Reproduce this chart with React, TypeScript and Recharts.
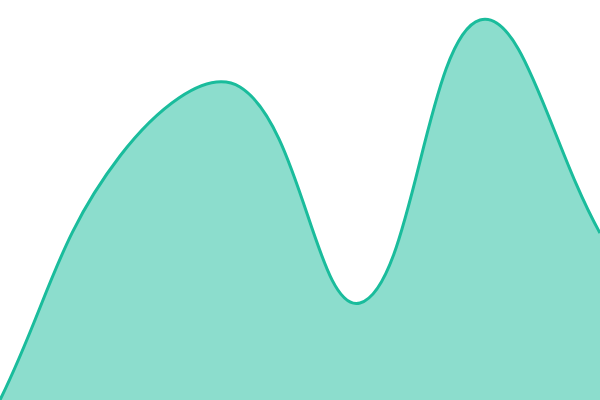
import React from 'react';
import { AreaChart, Area, XAxis, YAxis } from 'recharts';

const categories = ['A', 'B', 'C', 'D', 'E', 'F'];
const values = [0, 244, 313, 97, 380, 167];

const data = categories.map((c, i) => ({ name: c, value: values[i] }));

const CHART_W = 600;
const CHART_H = 400;
const TENSION = 0.4;

// Spline with distance-weighted tangents (tension 0.4), control points capped to the plot area.
function tensionCurve(context: any) {
  let xs: number[] = [];
  let ys: number[] = [];
  let line = NaN;
  const clamp = (v: number, lo: number, hi: number) => Math.max(lo, Math.min(hi, v));
  return {
    areaStart() {
      line = 0;
    },
    areaEnd() {
      line = NaN;
    },
    lineStart() {
      xs = [];
      ys = [];
    },
    lineEnd() {
      const n = xs.length;
      if (n) {
        if (line) context.lineTo(xs[0], ys[0]);
        else context.moveTo(xs[0], ys[0]);
        if (n === 2) {
          context.lineTo(xs[1], ys[1]);
        } else if (n > 2) {
          const cpPrev: [number, number][] = [];
          const cpNext: [number, number][] = [];
          for (let i = 0; i < n; i++) {
            const pi = i > 0 ? i - 1 : i;
            const ni = i < n - 1 ? i + 1 : i;
            const d01 = Math.hypot(xs[i] - xs[pi], ys[i] - ys[pi]);
            const d12 = Math.hypot(xs[ni] - xs[i], ys[ni] - ys[i]);
            let s01 = d01 / (d01 + d12);
            let s12 = d12 / (d01 + d12);
            if (isNaN(s01)) s01 = 0;
            if (isNaN(s12)) s12 = 0;
            const fa = TENSION * s01;
            const fb = TENSION * s12;
            const dx = xs[ni] - xs[pi];
            const dy = ys[ni] - ys[pi];
            cpPrev.push([clamp(xs[i] - fa * dx, 0, CHART_W), clamp(ys[i] - fa * dy, 0, CHART_H)]);
            cpNext.push([clamp(xs[i] + fb * dx, 0, CHART_W), clamp(ys[i] + fb * dy, 0, CHART_H)]);
          }
          for (let i = 0; i < n - 1; i++) {
            context.bezierCurveTo(
              cpNext[i][0],
              cpNext[i][1],
              cpPrev[i + 1][0],
              cpPrev[i + 1][1],
              xs[i + 1],
              ys[i + 1]
            );
          }
        }
      }
      if (line || (line !== 0 && n === 1)) context.closePath();
      line = 1 - line;
    },
    point(x: number, y: number) {
      xs.push(+x);
      ys.push(+y);
    },
  };
}

export default function App() {
  return (
    <div style={{ position: 'absolute', left: 0, top: 0, width: CHART_W, height: CHART_H, background: '#fff' }}>
      <AreaChart width={CHART_W} height={CHART_H} data={data} margin={{ top: 0, right: 0, bottom: 0, left: 0 }}>
        <XAxis dataKey="name" hide />
        <YAxis hide domain={[0, 400]} />
        <Area
          type={tensionCurve as any}
          dataKey="value"
          stroke="#1abc9c"
          strokeWidth={3}
          fill="#1abc9c"
          fillOpacity={0.5}
          activeDot={false}
          isAnimationActive={false}
        />
      </AreaChart>
    </div>
  );
}
